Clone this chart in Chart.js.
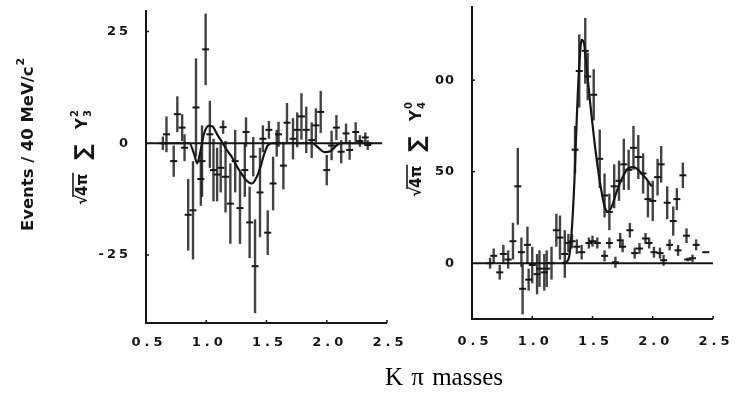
<!DOCTYPE html>
<html>
<head>
<meta charset="utf-8">
<script src="https://cdn.jsdelivr.net/npm/chart.js@4.4.1/dist/chart.umd.min.js"></script>
<style>
html,body{margin:0;padding:0;background:#fff;}
#wrap{position:relative;width:743px;height:393px;overflow:hidden;background:#fff;}
canvas{position:absolute;top:0;}
#cL{left:0;}
#cR{left:400px;}
#xlab{position:absolute;left:385px;top:365px;font-family:"Liberation Serif","Times New Roman",serif;font-size:25px;line-height:24px;word-spacing:2px;color:#000;white-space:nowrap;}
</style>
</head>
<body>
<div id="wrap">
<canvas id="cL" width="430" height="393"></canvas>
<canvas id="cR" width="343" height="393"></canvas>
<div id="xlab">K π masses</div>
</div>
<script>
// ---------- data ----------
const xTicks = [0.5, 1.0, 1.5, 2.0, 2.5];
const xTickLabels = ['0.5', '1.0', '1.5', '2.0', '2.5'];
const leftYTicks = [25, 0, -25];
const leftYTickLabels = ['25', '0', '-25'];
const rightYTicks = [0, 50, 100];
const rightYTickLabels = ['0', '50', '00'];

// left panel: sqrt(4pi) Sum Y_3^2 moment
const leftMass = [0.64,0.67,0.73,0.76,0.80,0.82,0.85,0.89,0.915,0.955,0.965,0.995,1.03,1.06,1.09,1.12,1.14,1.16,1.20,1.24,1.28,1.32,1.33,1.36,1.39,1.405,1.446,1.47,1.51,1.52,1.555,1.585,1.60,1.64,1.67,1.72,1.755,1.79,1.83,1.875,1.91,1.95,2.00,2.04,2.08,2.12,2.16,2.19,2.24,2.275,2.32,2.34];
const leftVal = [0,2,-4,6.5,3.5,-1,-16,-15,8,-8,-4,21,2,-6,-7,-5.5,3.6,-7.5,-13.5,-4,-14.5,-6,2.5,-17.7,-3,-27.5,-11,1,-20,3,-9,0,2,-5,4.6,1,3,6,3,0.7,4,7,-6,-0.5,3.5,-1.9,2.2,-1.5,2.5,0.5,1.3,-0.4];
const leftErr = [1.5,4,3.5,4,3,3,8,11,11,6,8,8,7.5,7,6,5.5,1.5,8,9,7,8,6,3.3,8,4.4,10.5,10,3,5,2,6,3,2.8,5.3,4.4,4.6,3.9,5.2,5.2,4,3.8,4.7,3.4,3.3,2.8,2.6,2.2,2.2,2.2,1.3,1.1,1.1];
const leftFitMass = [0.64,0.86,0.90,0.925,0.95,0.98,1.02,1.05,1.09,1.13,1.17,1.21,1.25,1.29,1.33,1.38,1.42,1.45,1.48,1.51,1.55,1.88,1.93,1.98,2.03,2.08,2.12,2.38];
const leftFitVal = [0,0,-2.5,-4.5,-2,2,3.9,3.8,2,0.3,-1.5,-3,-5,-6.7,-8.2,-9,-7.5,-5.3,-2.5,-0.5,0,0,-1,-2,-1.8,-0.5,0,0];

// right panel: sqrt(4pi) Sum Y_4^0 moment
const rightMass = [0.65,0.68,0.73,0.76,0.80,0.84,0.88,0.91,0.92,0.96,0.97,1.00,1.04,1.06,1.10,1.12,1.16,1.20,1.23,1.27,1.30,1.355,1.39,1.44,1.46,1.51,1.56,1.60,1.64,1.68,1.72,1.76,1.80,1.84,1.88,1.92,1.96,2.00,2.04,2.07,2.12,2.17,2.20,2.25];
const rightVal = [0,4,-5,5,2,12,42,6,-14,10,-9,-1,-6,-3,-5,-3,0,18,14,5,11,62,105,116,102,92,57,37,28,42,45,54,51,63,58,49,35,34,47,54,33,23,35,48];
const rightErr = [3,4,4,5,5,10,21,8,14,10,6,10,11,10,10,10,9,9,12,13,5,13,20,18,13,14,16,12,10,12,11,14,11,12,12,11,10,11,10,10,9,8,6,7];
const right2Mass = [1.33,1.37,1.41,1.47,1.50,1.54,1.60,1.64,1.69,1.73,1.75,1.81,1.85,1.89,1.94,1.97,2.01,2.06,2.09,2.14,2.21,2.28,2.29,2.33,2.36,2.44];
const right2Val = [12,9,6,11,12,11,4,11,0.5,12.5,9,18,5.5,8,13.5,11,6,5.5,1.6,10,7,15,2,2.7,10,6];
const right2Err = [4,4,4,3,3,3,3,3,3,4,3,4,3,3,3,3,3,3,3,3,3,4,1,2,3,0];
const rightFitMass = [1.25,1.29,1.31,1.33,1.35,1.37,1.39,1.41,1.43,1.45,1.48,1.51,1.54,1.57,1.60,1.63,1.66,1.70,1.75,1.80,1.84,1.88,1.92,1.96,1.99];
const rightFitVal = [0,1,5,20,45,80,108,122,120,108,88,70,54,41,31,28,31,39,47,52,52.5,51,48,45,42];

// ---------- helpers ----------
const INK = '#161616';
function pts(xs, ys){ return xs.map((x,i)=>({x:x, y:ys[i]})); }

const errorBars = {
  id:'errorBars',
  beforeDatasetsDraw(chart){
    const ctx = chart.ctx, ys = chart.scales.y;
    chart.data.datasets.forEach((ds,i)=>{
      if(!ds.errors) return;
      const meta = chart.getDatasetMeta(i);
      ctx.save();
      ctx.strokeStyle = 'rgba(25,25,25,0.82)';
      ctx.lineWidth = 2.4;
      meta.data.forEach((el,j)=>{
        const v = ds.data[j].y, e = ds.errors[j];
        if(!e) return;
        ctx.beginPath();
        ctx.moveTo(el.x, ys.getPixelForValue(v-e));
        ctx.lineTo(el.x, ys.getPixelForValue(v+e));
        ctx.stroke();
      });
      ctx.restore();
    });
  }
};

function spacedText(ctx, txt, x, y, align, spacing){
  ctx.save();
  ctx.letterSpacing = spacing+'px';
  ctx.textAlign = align;
  let dx = 0;
  if(align==='center') dx = spacing/2;
  if(align==='right') dx = spacing;
  ctx.fillText(txt, x+dx, y);
  ctx.restore();
}

function drawMoment(ctx, cx, cy, sub, sup){
  ctx.save();
  ctx.translate(cx, cy);
  ctx.rotate(-Math.PI/2);
  ctx.fillStyle = INK; ctx.strokeStyle = INK;
  ctx.textBaseline = 'alphabetic'; ctx.textAlign = 'left';
  const base = 7;
  let x = -53;
  ctx.font = 'bold 15px "DejaVu Sans"';
  ctx.fillText('√', x, base); x += ctx.measureText('√').width - 1;
  const ox = x;
  ctx.fillText('4π', x, base); x += ctx.measureText('4π').width;
  ctx.lineWidth = 1.6;
  ctx.beginPath(); ctx.moveTo(ox-1, base-14); ctx.lineTo(x+1, base-14); ctx.stroke();
  x += 14;
  ctx.font = 'bold 22px "DejaVu Sans"';
  ctx.fillText('∑', x, base+3); x += ctx.measureText('∑').width + 15;
  ctx.font = 'bold 15px "DejaVu Sans"';
  ctx.fillText('Y', x, base); x += ctx.measureText('Y').width + 1;
  ctx.font = 'bold 10px "DejaVu Sans"';
  ctx.fillText(sup, x, base-9);
  ctx.fillText(sub, x, base+4);
  ctx.restore();
}

function drawEvents(ctx, cx, cy){
  ctx.save();
  ctx.translate(cx, cy);
  ctx.rotate(-Math.PI/2);
  ctx.fillStyle = INK;
  ctx.textBaseline = 'alphabetic'; ctx.textAlign = 'left';
  ctx.font = 'bold 15px "DejaVu Sans"';
  const main = 'Events / 40 MeV/c';
  const w = ctx.measureText(main).width;
  ctx.font = 'bold 10px "DejaVu Sans"';
  const w2 = ctx.measureText('2').width;
  const total = w + w2;
  const target = 172;
  ctx.scale(target/total, 1);
  ctx.font = 'bold 15px "DejaVu Sans"';
  ctx.fillText(main, -total/2, 5);
  ctx.font = 'bold 10px "DejaVu Sans"';
  ctx.fillText('2', -total/2 + w + 1, -4);
  ctx.restore();
}

function decoPlugin(cfg){
  return {
    id:'deco',
    beforeDatasetsDraw(chart){
      const ctx = chart.ctx, xs = chart.scales.x, ys = chart.scales.y, a = chart.chartArea;
      ctx.save();
      ctx.strokeStyle = INK; ctx.lineWidth = 2;
      ctx.beginPath();
      ctx.moveTo(a.left, a.top); ctx.lineTo(a.left, a.bottom+1);
      ctx.moveTo(a.left-1, a.bottom); ctx.lineTo(a.right, a.bottom);
      const y0 = ys.getPixelForValue(0);
      ctx.moveTo(a.left, y0); ctx.lineTo(xs.getPixelForValue(cfg.zeroEnd), y0);
      ctx.stroke();
      ctx.lineWidth = 1.5;
      xTicks.forEach(t=>{
        if(t===0.5) return;
        const px = xs.getPixelForValue(t);
        ctx.beginPath(); ctx.moveTo(px, a.bottom); ctx.lineTo(px, a.bottom-3); ctx.stroke();
      });
      cfg.yTicks.forEach(t=>{
        if(t===0) return;
        const py = ys.getPixelForValue(t);
        ctx.beginPath(); ctx.moveTo(a.left, py); ctx.lineTo(a.left+3, py); ctx.stroke();
      });
      ctx.restore();
    },
    afterDraw(chart){
      const ctx = chart.ctx, xs = chart.scales.x, ys = chart.scales.y;
      ctx.save();
      ctx.fillStyle = INK;
      ctx.font = 'bold 13px "DejaVu Sans"';
      ctx.textBaseline = 'middle';
      xTicks.forEach((t,i)=>{
        spacedText(ctx, xTickLabels[i], xs.getPixelForValue(t)+1, cfg.xLabelY, 'center', 4);
      });
      cfg.yTicks.forEach((t,i)=>{
        spacedText(ctx, cfg.yLabels[i], cfg.yLabelX, ys.getPixelForValue(t), 'right', cfg.ySpacing);
      });
      ctx.restore();
      cfg.titles(ctx);
    }
  };
}

function makeChart(id, padding, yMin, yMax, datasets, cfg){
  return new Chart(document.getElementById(id), {
    type:'scatter',
    data:{ datasets: datasets },
    options:{
      responsive:false, maintainAspectRatio:false, animation:false, devicePixelRatio:1,
      layout:{ padding: padding },
      plugins:{ legend:{display:false}, tooltip:{enabled:false}, title:{display:false} },
      scales:{
        x:{ type:'linear', min:0.5, max:2.5, display:false },
        y:{ type:'linear', min:yMin, max:yMax, display:false }
      },
      elements:{ point:{ pointStyle:'line', radius:3.5, borderWidth:2, borderColor:INK, backgroundColor:INK } }
    },
    plugins:[errorBars, decoPlugin(cfg)]
  });
}

const fitStyle = { type:'line', showLine:true, pointRadius:0, borderColor:INK, borderWidth:2.2, cubicInterpolationMode:'monotone', fill:false };

makeChart('cL', {left:146, right:43, top:10, bottom:70}, -40.2, 29.8, [
  Object.assign({ data: pts(leftFitMass, leftFitVal) }, fitStyle),
  { data: pts(leftMass, leftVal), errors: leftErr, pointStyle:'line', pointRadius:3.5, borderColor:INK, borderWidth:2 }
], {
  zeroEnd: 2.46, xLabelY: 343, yTicks: leftYTicks, yLabels: leftYTickLabels, yLabelX: 128, ySpacing: 3,
  titles(ctx){ drawEvents(ctx, 28, 145); drawMoment(ctx, 80, 152, '3', '2'); }
});

makeChart('cR', {left:72, right:30, top:6, bottom:74}, -30.5, 140.5, [
  Object.assign({ data: pts(rightFitMass, rightFitVal) }, fitStyle),
  { data: pts(rightMass, rightVal), errors: rightErr, pointStyle:'line', pointRadius:3.5, borderColor:INK, borderWidth:2 },
  { data: pts(right2Mass, right2Val), errors: right2Err, pointStyle:'line', pointRadius:3.5, borderColor:INK, borderWidth:2 }
], {
  zeroEnd: 2.5, xLabelY: 342, yTicks: rightYTicks, yLabels: rightYTickLabels, yLabelX: 54, ySpacing: 1,
  titles(ctx){ drawMoment(ctx, 14, 144, '4', '0'); }
});
</script>
</body>
</html>
